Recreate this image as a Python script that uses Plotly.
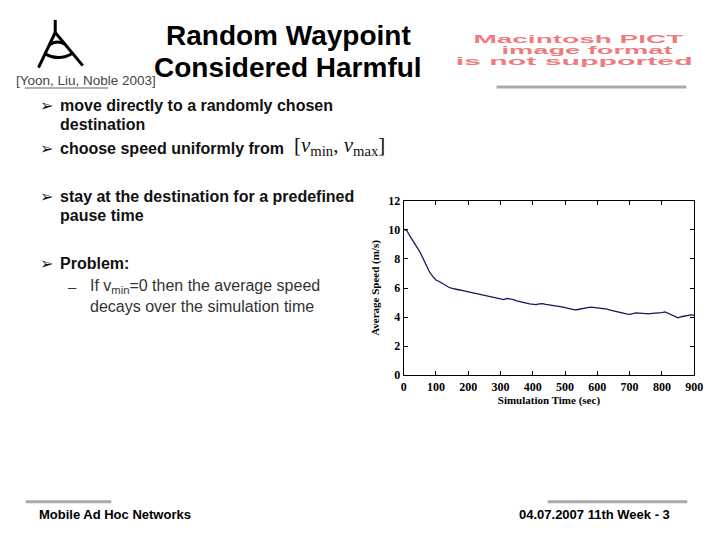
import plotly.graph_objects as go

# -------------------------------------------------
# Data: average speed over simulation time
# -------------------------------------------------
sim_time = list(range(0, 910, 10))
avg_speed = [
    10.05, 9.95, 9.55, 9.15, 8.85, 8.5, 8.05, 7.5, 7.1, 6.8,
    6.55, 6.45, 6.3, 6.15, 6.05, 5.98, 5.95, 5.88, 5.83, 5.78,
    5.72, 5.68, 5.62, 5.6, 5.55, 5.5, 5.45, 5.4, 5.33, 5.28,
    5.22, 5.2, 5.28, 5.25, 5.2, 5.12, 5.05, 5.0, 4.96, 4.9,
    4.86, 4.85, 4.9, 4.92, 4.87, 4.85, 4.8, 4.78, 4.74, 4.7,
    4.66, 4.62, 4.55, 4.5, 4.52, 4.58, 4.6, 4.65, 4.68, 4.66,
    4.65, 4.63, 4.6, 4.55, 4.48, 4.42, 4.38, 4.33, 4.28, 4.22,
    4.18, 4.25, 4.29, 4.27, 4.25, 4.26, 4.22, 4.25, 4.27, 4.24,
    4.3, 4.35, 4.25, 4.12, 4.0, 3.94, 4.02, 4.08, 4.1, 4.15,
    4.12,
]
x_ticks = list(range(0, 1000, 100))
y_ticks = list(range(0, 14, 2))

title_lines = ["Random Waypoint", "Considered Harmful"]
citation = "[Yoon, Liu, Noble 2003]"
pict_lines = ["Macintosh PICT", "image format", "is not supported"]
bullets = [
    "move directly to a randomly chosen",
    "destination",
    "choose speed uniformly from",
    "stay at the destination for a predefined",
    "pause time",
    "Problem:",
]
sub_bullets = [
    "If v<sub>min</sub>=0 then the average speed",
    "decays over the simulation time",
]
footer_left = "Mobile Ad Hoc Networks"
footer_right = "04.07.2007 11th Week - 3"

# the page keeps the browser's 8px body margin, so the figure is made
# 16px smaller and every position below is given in page pixels
PAGE_W, PAGE_H, OFF = 720, 540, 8
W, H = PAGE_W - 2 * OFF, PAGE_H - 2 * OFF
SANS = "Liberation Sans, Arial, sans-serif"
SERIF = "Liberation Serif, Times New Roman, serif"
NARROW = "Liberation Sans Narrow, Arial Narrow, Liberation Sans, sans-serif"


def px(x):
    return (x - OFF) / W


def py(y):
    return 1 - (y - OFF) / H


def note(fig, text, x, y, size, family=SANS, color="#111111",
         xanchor="left", weight="normal"):
    fig.add_annotation(
        x=px(x), y=py(y), xref="paper", yref="paper",
        text=text, showarrow=False, xanchor=xanchor, yanchor="middle",
        font=dict(size=size, family=family, color=color, weight=weight),
    )


fig = go.Figure()

fig.add_trace(
    go.Scatter(
        x=sim_time,
        y=avg_speed,
        mode="lines",
        line=dict(color="#16165e", width=1.3),
        showlegend=False,
        hoverinfo="skip",
    )
)

axis_common = dict(
    showline=True, linecolor="black", linewidth=1, mirror="ticks",
    ticks="inside", ticklen=4, tickcolor="black", showgrid=False,
    zeroline=False, ticklabeloverflow="allow",
    tickfont=dict(family=SERIF, size=12, color="black", weight="bold"),
)

fig.update_layout(
    width=W, height=H, autosize=False,
    margin=dict(l=0, r=0, t=0, b=0),
    paper_bgcolor="white", plot_bgcolor="white",
    xaxis=dict(
        domain=[px(407.5), px(703)], range=[0, 900], tickvals=x_ticks,
        title=dict(text="Simulation Time (sec)", standoff=2,
                   font=dict(family=SERIF, size=11, color="black",
                             weight="bold")),
        **axis_common,
    ),
    yaxis=dict(
        domain=[py(378), py(199)], range=[0, 12], tickvals=y_ticks,
        title=dict(text="Average Speed (m/s)", standoff=6,
                   font=dict(family=SERIF, size=11, color="black",
                             weight="bold")),
        **axis_common,
    ),
)

# title and citation
note(fig, title_lines[0], 290, 29, 28, xanchor="center", weight="bold",
     color="black")
note(fig, title_lines[1], 290, 62, 28, xanchor="center", weight="bold",
     color="black")
note(fig, citation, 11, 75, 13.5, color="#444444")
fig.add_shape(type="line", xref="paper", yref="paper",
              x0=px(22), x1=px(107), y0=py(83), y1=py(83),
              line=dict(color="#b0b0b0", width=2))

# logo
logo_paths = [
    "M 53 13 L 53 26",
    "M 53 26 L 36 62",
    "M 53 26 L 81 60",
    "M 47 39 Q 54 33 63 38",
    "M 43 48 Q 57 56 71 47",
]
for p in logo_paths:
    pts = p.split()
    out = []
    i = 0
    while i < len(pts):
        if pts[i] in ("M", "L"):
            out.append(f"{pts[i]} {px(float(pts[i+1]))} {py(float(pts[i+2]))}")
            i += 3
        else:
            out.append(f"Q {px(float(pts[i+1]))} {py(float(pts[i+2]))} "
                       f"{px(float(pts[i+3]))} {py(float(pts[i+4]))}")
            i += 5
    fig.add_shape(type="path", xref="paper", yref="paper", path=" ".join(out),
                  line=dict(color="black", width=3))

# missing PICT placeholder
pict_pos = [(585, 33, 210), (594, 44, 171), (581, 55, 237)]
for txt, (cx, cy, _) in zip(pict_lines, pict_pos):
    note(fig, txt, cx, cy, 10.5, xanchor="center", weight="bold",
         color="#ee7c7c")
fig.add_shape(type="line", xref="paper", yref="paper",
              x0=px(502), x1=px(695), y0=py(82), y1=py(82),
              line=dict(color="#aaaaaa", width=3))

# bullets
bullet_rows = [(101, True), (121, False), (145, True), (194, True),
               (214, False), (263, True)]
for txt, (y, has_mark) in zip(bullets, bullet_rows):
    if has_mark:
        note(fig, "➢", 35, y, 16, family="DejaVu Sans", color="#111111")
    note(fig, txt, 56, y, 16, weight="bold", color="#111111")
note(fig, "[<i>v</i><sub>min</sub>, <i>v</i><sub>max</sub>]", 294, 143, 21,
     family=SERIF, color="#111111")

note(fig, "–", 64, 287, 15, color="#333333")
note(fig, sub_bullets[0], 86, 287, 16, color="#333333")
note(fig, sub_bullets[1], 86, 308, 16, color="#333333")

# footer
fig.add_shape(type="line", xref="paper", yref="paper",
              x0=px(23), x1=px(110), y0=py(508), y1=py(508),
              line=dict(color="#aaaaaa", width=3))
fig.add_shape(type="line", xref="paper", yref="paper",
              x0=px(554), x1=px(696), y0=py(508), y1=py(508),
              line=dict(color="#aaaaaa", width=3))
note(fig, footer_left, 34, 521, 13, family=NARROW, color="black",
     weight="bold")
note(fig, footer_right, 680, 521, 13, family=NARROW, color="black",
     xanchor="right", weight="bold")

lens_js = ", ".join(f'"{t}": {L}' for t, (_, _, L) in zip(pict_lines, pict_pos))
post = (
    "var gd=document.getElementById('{plot_id}');"
    "var lens={" + lens_js + "};"
    "gd.querySelectorAll('text.annotation-text').forEach(function(t){"
    "var L=lens[t.textContent];"
    "if(L){t.setAttribute('textLength',L);"
    "t.setAttribute('lengthAdjust','spacingAndGlyphs');}});"
)

fig.write_html("out.html", post_script=post, config={"displayModeBar": False})
